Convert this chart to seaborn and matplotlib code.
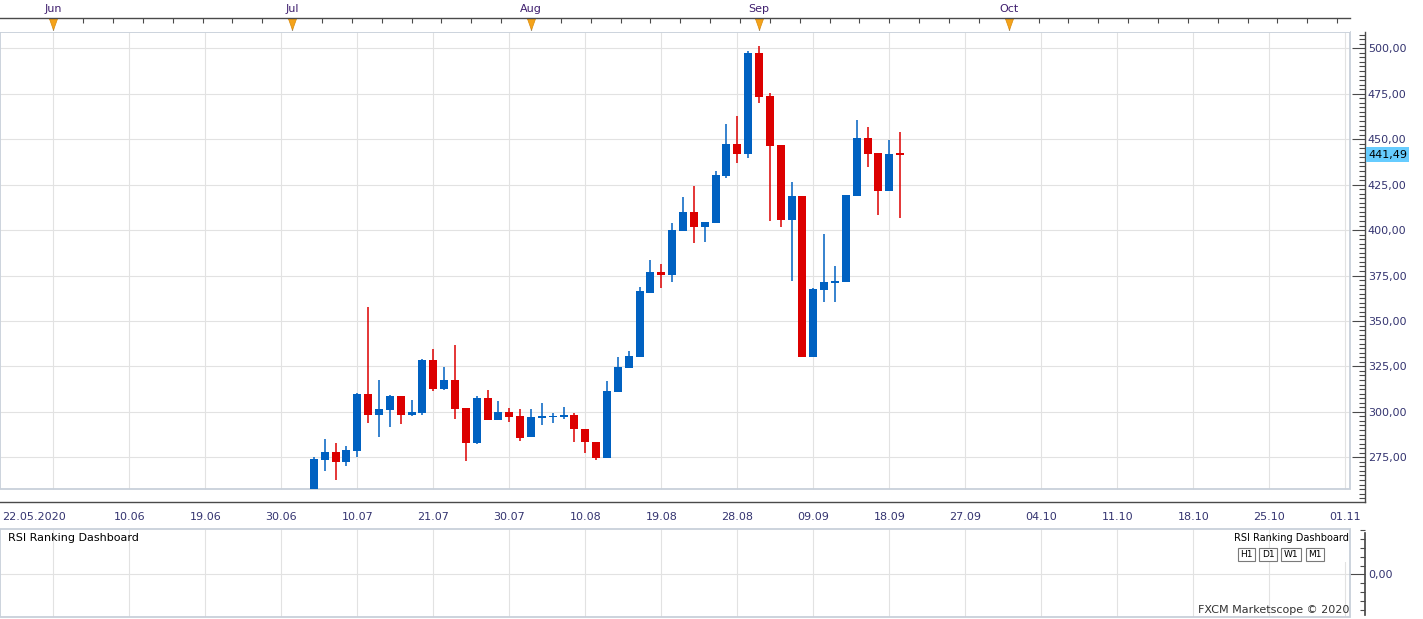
import numpy as np
import pandas as pd
import matplotlib
matplotlib.use('Agg')
from matplotlib import pyplot as plt
import matplotlib.patches as mpatches
import matplotlib.transforms as mtransforms
from matplotlib.path import Path
from matplotlib.ticker import MultipleLocator, FixedLocator
import seaborn as sns

# daily candles, bar index 0 = 06.07 ... 54 = 21.09 (last one still running)
opens = [255.3, 273.5, 277.9, 272.4, 278.5, 310.0, 298.4, 301.1, 308.9, 298.4,
         299.6, 328.5, 312.6, 317.5, 302.2, 283.0, 307.7, 295.3, 300.0, 297.8,
         286.0, 296.8, 296.9, 297.1, 298.0, 290.8, 283.6, 274.5, 310.8, 324.1,
         330.1, 365.6, 377.0, 375.5, 399.6, 409.9, 401.8, 404.0, 429.8, 447.4,
         442.1, 497.4, 473.8, 446.8, 405.6, 418.8, 329.9, 367.1, 371.1, 371.5,
         418.7, 450.5, 442.3, 421.6, 442.2]
highs = [275.2, 285.1, 282.9, 281.3, 310.3, 357.5, 317.4, 309.2, 308.9, 306.6,
         329.0, 334.5, 324.6, 336.7, 302.2, 308.8, 312.0, 306.0, 302.2, 301.6,
         301.3, 305.1, 299.6, 302.9, 299.1, 290.8, 283.6, 316.7, 330.0, 333.3,
         368.6, 383.5, 381.3, 403.8, 418.1, 424.1, 404.4, 432.4, 458.2, 462.8,
         498.3, 501.3, 475.4, 446.8, 426.5, 418.8, 368.2, 397.9, 380.3, 419.3,
         460.4, 456.6, 442.3, 449.5, 453.8]
lows = [253.0, 267.5, 262.5, 270.2, 275.2, 294.0, 286.4, 291.4, 293.4, 297.8,
        298.0, 311.5, 312.0, 296.2, 273.2, 282.5, 295.3, 295.3, 294.5, 284.1,
        286.0, 292.6, 293.8, 296.0, 283.3, 277.2, 273.4, 274.5, 310.8, 324.1,
        330.1, 365.6, 368.4, 371.7, 399.6, 393.0, 393.6, 404.0, 428.7, 437.1,
        439.9, 470.1, 405.2, 401.9, 372.2, 329.9, 329.9, 360.7, 360.6, 371.5,
        418.7, 434.6, 408.3, 421.6, 406.6]
closes = [274.1, 277.9, 272.4, 279.0, 310.0, 298.4, 301.7, 308.9, 298.4, 300.0,
          328.5, 312.6, 317.5, 301.6, 283.0, 307.7, 295.3, 300.0, 297.4, 285.8,
          296.9, 297.8, 297.6, 298.2, 290.4, 283.3, 274.5, 311.2, 324.4, 330.5,
          366.4, 377.0, 375.5, 400.0, 409.9, 401.8, 404.4, 430.2, 447.2, 442.1,
          497.4, 473.2, 446.3, 405.6, 418.8, 329.9, 367.7, 371.5, 372.1, 419.3,
          450.5, 442.0, 421.6, 441.9, 441.49]
last_price = 441.49

price_ticks = [275, 300, 325, 350, 375, 400, 425, 450, 475, 500]
first_date = '22.05.2020'
date_pos = [-17, -10, -3, 4, 11, 18, 25, 32, 39, 46, 53, 60, 67, 74, 81, 88, 95]
date_labels = ['10.06', '19.06', '30.06', '10.07', '21.07', '30.07', '10.08', '19.08',
               '28.08', '09.09', '18.09', '27.09', '04.10', '11.10', '18.10', '25.10', '01.11']
month_pos = [-24, -2, 20, 41, 64]
month_labels = ['Jun', 'Jul', 'Aug', 'Sep', 'Oct']
buttons = ['H1', 'D1', 'W1', 'M1']

sns.set_theme(style='white')
plt.rcParams['font.family'] = ['DejaVu Sans']

W, H = 1423, 619
fig = plt.figure(figsize=(W / 100, H / 100), dpi=100)
fig.patch.set_facecolor('white')

def box(l, t, r, b):
    return [l / W, 1 - b / H, (r - l) / W, (b - t) / H]

X0, XF, XR = -28.91, 95.43, 96.81      # left edge, frame right, axis line
Y0, YF, YB = 257.6, 508.97, 250.4      # frame bottom, top, date axis line
GRID = '#e2e2e2'
FRAME = '#c8d0da'
AXC = '#4a4a4a'
TXT = '#343470'
grid_pos = np.arange(-24, 96, 7)

# ---------------- main price panel
ax = fig.add_axes(box(0, 32, 1365, 502))
ax.set_facecolor('white')
ax.set_xlim(X0, XR)
ax.set_ylim(YB, YF)
ax.hlines(price_ticks, X0, XF, color=GRID, lw=0.8, zorder=0)
ax.vlines(grid_pos, Y0, YF, color=GRID, lw=0.8, zorder=0)
frame = mpatches.Rectangle((X0, Y0), XF - X0, YF - Y0, fill=False, ec=FRAME, lw=1.3, clip_on=False, zorder=1)
ax.add_patch(frame)
clip = mpatches.Rectangle((X0, Y0), XF - X0, YF - Y0, transform=ax.transData)

df = pd.DataFrame({'o': opens, 'h': highs, 'l': lows, 'c': closes})
df['i'] = np.arange(len(df))
df['col'] = np.where(df.c >= df.o, '#0061c1', '#dc0000')
wicks = ax.vlines(df.i, df.l, df.h, colors=df.col, lw=1.1, zorder=3)
wicks.set_clip_path(clip)
bars = ax.bar(df.i, (df.c - df.o).abs(), bottom=df[['o', 'c']].min(axis=1), width=0.74,
              color=df.col, lw=0, zorder=4)
for p in bars:
    p.set_clip_path(clip)

for s in ['left', 'top']:
    ax.spines[s].set_visible(False)
for s in ['right', 'bottom']:
    ax.spines[s].set_color(AXC)
    ax.spines[s].set_linewidth(1)

ax.yaxis.tick_right()
ax.set_yticks(price_ticks)
ax.set_yticklabels([f'{v:.2f}'.replace('.', ',') for v in price_ticks])
ax.yaxis.set_minor_locator(MultipleLocator(2.5))
ax.tick_params(axis='y', which='major', direction='in', length=9.5, width=0.8, color=AXC,
               labelsize=8, labelcolor=TXT, pad=2)
ax.tick_params(axis='y', which='minor', direction='in', length=4.5, width=0.8, color=AXC)

ax.set_xticks(grid_pos)
ax.set_xticklabels([''] + date_labels)
ax.xaxis.set_minor_locator(FixedLocator(np.arange(-28, 97, 1)))
ax.tick_params(axis='x', which='major', direction='in', length=8.5, width=0.8, color=AXC,
               labelsize=8, labelcolor=TXT, pad=7)
ax.tick_params(axis='x', which='minor', direction='in', length=3, width=0.8, color=AXC)
ax.text(2 / 1365, -15 / 470, first_date, transform=ax.transAxes, ha='left', va='center',
        fontsize=8, color=TXT)

tr = mtransforms.blended_transform_factory(ax.transAxes, ax.transData)
ax.text(1 + 3 / 1365, last_price, f'{last_price:.2f}'.replace('.', ','), transform=tr,
        ha='left', va='center', fontsize=8, color='black', clip_on=False, zorder=10,
        bbox=dict(boxstyle='square,pad=0.2', fc='#66ccff', ec='none'))

# ---------------- month strip on top
tax = fig.add_axes(box(0, 18, 1350, 32))
tax.set_facecolor('white')
tax.set_xlim(X0, XF)
tax.set_ylim(0, 1)
for s in ['left', 'right', 'bottom']:
    tax.spines[s].set_visible(False)
tax.spines['top'].set_color(AXC)
tax.spines['top'].set_linewidth(1)
tax.set_yticks([])
tax.xaxis.tick_top()
tax.set_xticks(month_pos)
tax.set_xticklabels(month_labels)
tax.xaxis.set_minor_locator(FixedLocator(np.arange(month_pos[0], 95, 2.75)))
tax.tick_params(axis='x', which='major', direction='in', length=8.5, width=0.8, color='#333333',
                labelsize=8, labelcolor='#3f1f6e', pad=3)
tax.tick_params(axis='x', which='minor', direction='in', length=3.5, width=0.8, color=AXC)
tri = Path([(-0.36, 0.5), (0.36, 0.5), (0, -0.5), (-0.36, 0.5)])
tax.plot(month_pos, [0.54] * len(month_pos), ls='none', marker=tri, markersize=8,
         mfc='#f5a31a', mec='#d98a0b', mew=0.5, zorder=2)

# ---------------- lower indicator panel
lax = fig.add_axes(box(0, 529, 1365, 617))
lax.set_facecolor('white')
lax.set_xlim(X0, XR)
lax.set_ylim(-0.97, 1.03)
lax.hlines([0], X0, XF, color=GRID, lw=0.8, zorder=0)
lax.vlines(grid_pos, -0.97, 1.03, color=GRID, lw=0.8, zorder=0)
lax.add_patch(mpatches.Rectangle((X0, -0.97), XF - X0, 2.0, fill=False, ec=FRAME, lw=1.3,
                                 clip_on=False, zorder=1))
lax.add_patch(mpatches.Rectangle((1328 / 1365, 55 / 88), 20 / 1365, 33 / 88, transform=lax.transAxes,
                                 fc='white', ec='none', zorder=0.5))
for s in ['left', 'top', 'bottom']:
    lax.spines[s].set_visible(False)
lax.spines['right'].set_color(AXC)
lax.spines['right'].set_bounds(-0.92, 0.95)
lax.yaxis.tick_right()
lax.set_yticks([0])
lax.set_yticklabels(['0,00'])
lax.yaxis.set_minor_locator(MultipleLocator(0.2))
lax.set_xticks([])
lax.tick_params(axis='y', which='major', direction='in', length=11.5, width=0.8, color=AXC,
                labelsize=8, labelcolor=TXT, pad=2)
lax.tick_params(axis='y', which='minor', direction='in', length=3.5, width=0.8, color=AXC)

lax.text(8 / 1365, 79 / 88, 'RSI Ranking Dashboard', transform=lax.transAxes, ha='left',
         va='center', fontsize=8, color='black')
narrow = ['Liberation Sans Narrow', 'DejaVu Sans']
lax.text(1349 / 1365, 79 / 88, 'RSI Ranking Dashboard', transform=lax.transAxes, ha='right',
         va='center', fontsize=7, color='black', family=narrow)
for lbl, xp in zip(buttons, [1246.5, 1268, 1291, 1315]):
    lax.text(xp / 1365, 62.5 / 88, lbl, transform=lax.transAxes, ha='center', va='center',
             fontsize=6.5, color='black', family=narrow,
             bbox=dict(boxstyle='square,pad=0.25', fc='white', ec='#7a7a7a', lw=0.8))
lax.text(1349 / 1365, 7 / 88, 'FXCM Marketscope \u00a9 2020', transform=lax.transAxes, ha='right',
         va='center', fontsize=8, color='#333333')

fig.savefig('out.png', dpi=100, facecolor='white')
